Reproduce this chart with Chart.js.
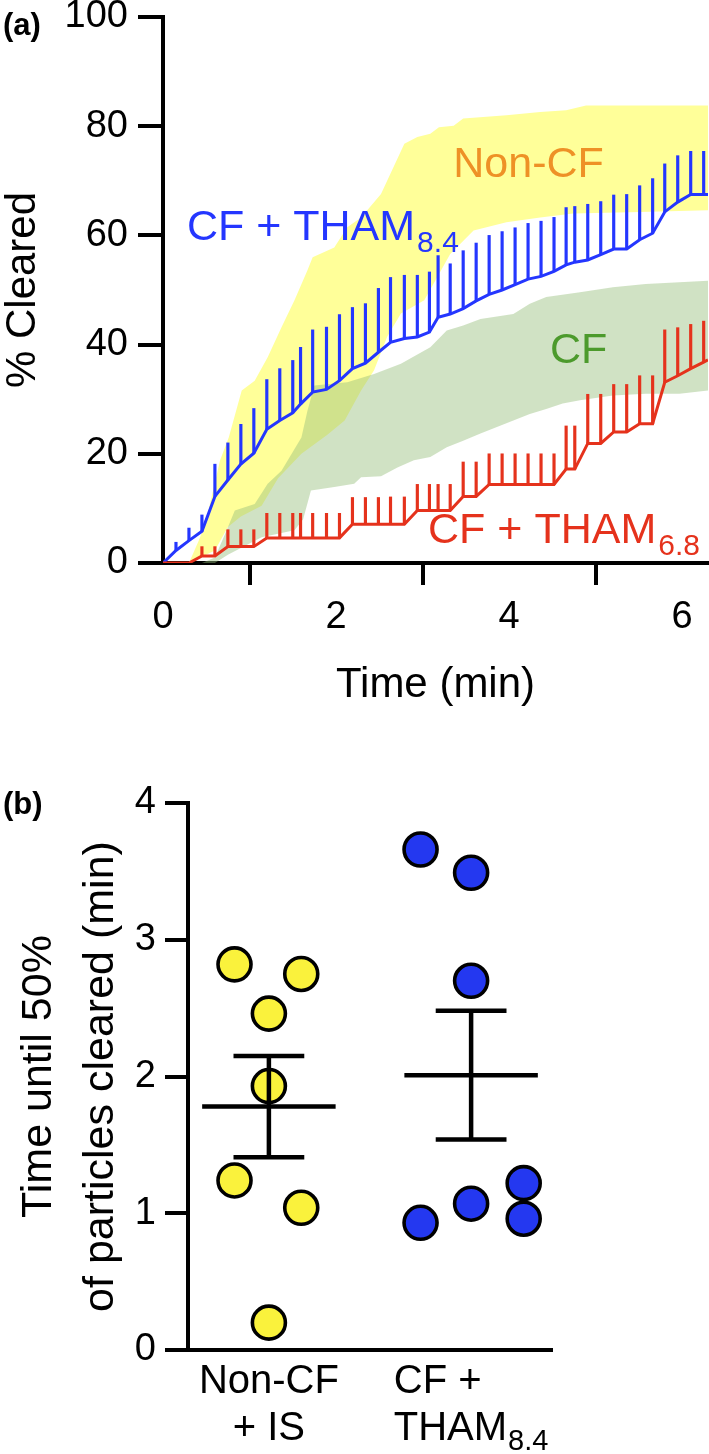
<!DOCTYPE html>
<html><head><meta charset="utf-8">
<script src="https://cdn.jsdelivr.net/npm/chart.js"></script>
<style>
html,body{margin:0;padding:0;background:#fff;}
body{width:709px;height:1454px;position:relative;overflow:hidden;font-family:'Liberation Sans',Arial,Helvetica,sans-serif;}
canvas{position:absolute;left:0;}
.panel{position:absolute;left:3px;font-weight:bold;font-size:31px;line-height:31px;color:#000;z-index:2;}
</style></head><body>
<canvas id="c1" width="709" height="711" style="top:0"></canvas>
<canvas id="c2" width="709" height="694" style="top:760px"></canvas>
<div class="panel" style="top:9px">(a)</div>
<div class="panel" style="top:788px">(b)</div>
<script>
// ---------------- Panel (a) data ----------------
const times = [0,0.15,0.30,0.45,0.60,0.75,0.90,1.05,1.20,1.35,1.50,1.59,1.73,1.89,2.04,2.19,2.34,2.49,2.63,2.79,2.94,3.08,3.18,3.32,3.47,3.62,3.77,3.92,4.07,4.22,4.37,4.52,4.66,4.76,4.91,5.06,5.21,5.36,5.51,5.66,5.80,5.95,6.10,6.25,6.30];
const tham84Mean = [0,2.3,4.1,5.8,12.2,15.2,18.1,20.1,24.5,26.1,27.5,29.1,31.3,31.8,33.4,35.6,36.6,38.6,40.4,41.1,41.4,42.3,45.0,45.6,46.6,48.0,49.2,50.0,51.0,52.0,52.5,53.4,54.6,55.1,55.5,56.5,57.5,57.5,59.2,60.4,64.3,66.1,67.5,67.5,67.5];
const tham84Upper = [null,3.8,6.4,8.8,18.1,22.0,25.4,28.3,33.6,35.6,37.1,39.5,42.7,43.2,45.5,46.8,47.5,50.3,52.3,52.7,52.7,53.3,56.3,54.8,57.2,58.6,60.0,60.7,61.4,62.2,62.6,63.3,65.1,65.3,65.7,66.2,67.4,67.5,69.1,70.4,73.1,74.6,75.4,75.4,null];
const tham68Mean = [0,0,0,1.3,1.3,3.0,3.0,3.0,4.6,4.6,4.6,4.6,4.6,4.6,4.6,7.1,7.1,7.1,7.1,7.1,9.6,9.6,9.6,9.6,12.2,12.2,14.4,14.4,14.4,14.4,14.4,14.4,17.2,17.2,21.9,21.9,24.0,24.0,25.5,25.5,33.1,34.3,35.6,36.8,37.2];
const tham68Upper = [null,null,null,3.0,3.0,6.1,6.1,6.1,9.1,9.1,9.1,9.1,9.1,9.1,9.1,12.0,12.0,12.0,12.1,12.1,14.4,14.4,14.4,14.4,18.5,18.5,20.0,20.0,20.0,20.0,20.0,20.0,25.1,25.1,30.9,30.9,32.7,32.7,34.3,34.3,42.7,43.1,43.7,44.3,null];

const nonCFUpperT = [0.30,0.41,0.49,0.56,0.66,0.76,0.91,1.06,1.21,1.37,1.52,1.67,1.73,1.98,2.13,2.29,2.52,2.79,2.94,3.09,3.19,3.36,3.47,3.97,4.36,4.66,4.89,6.30];
const nonCFUpperV = [0,4,7.2,12,18.8,23,31.6,33.4,37.7,43.2,48.1,53.6,56,57.8,61.5,63.3,67.6,76.8,78.0,78.6,79.8,80.1,81.4,82.0,82.6,82.9,83.8,83.8];
const nonCFLowerT = [0.30,0.60,0.75,0.90,1.14,1.33,1.60,1.90,2.10,2.29,2.44,2.59,2.75,3.02,3.32,3.59,3.74,3.97,4.36,4.74,5.51,6.30];
const nonCFLowerV = [0,2.3,6.6,8.5,10.5,15.5,20.0,23.5,26.1,31.6,35.3,41.4,45.7,48.1,56.6,60.9,61.5,62.4,63.3,64.0,64.3,64.6];
const cfUpperT = [0.45,0.60,0.72,0.83,1.06,1.21,1.37,1.60,1.67,1.75,2.13,2.44,2.75,3.09,3.28,3.47,3.67,4.05,4.24,4.43,4.82,5.20,5.58,6.30];
const cfUpperV = [0,1,5.4,9.6,10.8,14.5,16.9,23.0,27.9,32.5,33.1,34.6,36.5,39.5,42.6,43.5,44.7,45.6,47.5,48.7,49.6,50.5,51.1,51.7];
const cfLowerT = [0.60,0.75,1.14,1.52,1.62,1.71,1.98,2.21,2.29,2.52,2.71,2.90,3.09,3.28,3.47,3.67,3.86,4.05,4.24,4.43,4.62,4.82,5.20,5.58,5.97,6.30];
const cfLowerV = [0,1.5,4.7,6.0,8.0,13.3,13.9,14.5,15.7,15.9,17.5,18.8,19.4,21.2,22.4,23.7,24.9,26.1,27.3,28.2,29.2,29.8,30.7,31.0,31.0,31.6];

const xTicksA = [0,2,4,6];
const yTicksA = [0,20,40,60,80,100];

// ---------------- Panel (b) data ----------------
const groupPos = [1,2];
const nonCFVals = [2.82,2.75,2.46,1.93,1.24,1.04,0.20];
const nonCFJitter = [-0.17,0.16,0,0,-0.17,0.16,0];
const thamVals = [3.66,3.49,2.70,0.93,1.07,1.22,0.96];
const thamJitter = [-0.25,0,0,-0.25,0,0.26,0.26];
const groupMean = [1.78,2.01];
const semLow = [1.41,1.54];
const semHigh = [2.15,2.48];
const yTicksB = [0,1,2,3,4];
const catLabels = [[['Non-CF',''],['+ IS','']],[['CF +',''],['THAM','8.4']]];

// ---------------- styling ----------------
const FONT = "'Liberation Sans', Arial, Helvetica, sans-serif";
Chart.defaults.font.family = FONT;
Chart.defaults.color = '#000';
const BLUE = '#2436FF', RED = '#E5321C';

const pts = (xs, ys) => xs.map((x,i)=>({x, y: ys[i]}));
const shape = (ut, uv, lt, lv) => pts(ut, uv).concat(pts(lt, lv).reverse());
const errBars = (means, tops) => times.map((t,i)=>({x:t, y:[means[i], tops[i]]})).filter(p=>p.y[1]!==null);

const axisGrid = (len) => ({display:true, drawOnChartArea:false, drawTicks:true, tickLength:len, lineWidth:4, color:'#000'});
const axisBorder = {display:true, width:4, color:'#000'};

const annotPlugin = {
  id:'annot',
  afterDatasetsDraw(chart, args, opts) {
    const {ctx} = chart; const x = chart.scales.x, y = chart.scales.y;
    ctx.save();
    ctx.textAlign = 'left'; ctx.textBaseline = 'alphabetic';
    for (const a of opts.items) {
      const px = x.getPixelForValue(a.t), py = y.getPixelForValue(a.v);
      ctx.fillStyle = a.color;
      ctx.font = opts.size + 'px ' + FONT;
      ctx.fillText(a.text, px, py);
      if (a.sub) {
        const w = ctx.measureText(a.text).width;
        ctx.font = opts.subSize + 'px ' + FONT;
        ctx.fillText(a.sub, px + w + opts.subGap, py + opts.subDrop);
      }
    }
    ctx.restore();
  }
};

new Chart(document.getElementById('c1'), {
  type:'line',
  data:{datasets:[
    {label:'CF + THAM6.8', data:pts(times, tham68Mean), borderColor:RED, borderWidth:3, pointRadius:0, fill:false, tension:0, order:1},
    {label:'CF + THAM8.4', data:pts(times, tham84Mean), borderColor:BLUE, borderWidth:3, pointRadius:0, fill:false, tension:0, order:2},
    {type:'bar', label:'THAM6.8 SEM', data:errBars(tham68Mean, tham68Upper), backgroundColor:RED, barThickness:2.5, grouped:false, borderWidth:0, order:3},
    {type:'bar', label:'THAM8.4 SEM', data:errBars(tham84Mean, tham84Upper), backgroundColor:BLUE, barThickness:2.5, grouped:false, borderWidth:0, order:4},
    {label:'CF', data:shape(cfUpperT, cfUpperV, cfLowerT, cfLowerV), fill:'shape', backgroundColor:'rgba(150,190,124,0.45)', borderColor:'rgba(0,0,0,0)', borderWidth:0, pointRadius:0, tension:0, order:9},
    {label:'Non-CF', data:shape(nonCFUpperT, nonCFUpperV, nonCFLowerT, nonCFLowerV), fill:'shape', backgroundColor:'#FFFF99', borderColor:'rgba(0,0,0,0)', borderWidth:0, pointRadius:0, tension:0, order:10}
  ]},
  options:{
    responsive:false, animation:false, events:[], devicePixelRatio:1,
    layout:{padding:{left:0, top:17, right:1, bottom:0}},
    plugins:{legend:{display:false}, tooltip:{enabled:false},
      annot:{size:43, subSize:30, subGap:2, subDrop:12, items:[
        {text:'Non-CF', sub:'', t:3.356, v:70.75, color:'#EE9126'},
        {text:'CF + THAM', sub:'8.4', t:0.277, v:59.16, color:BLUE},
        {text:'CF', sub:'', t:4.474, v:36.63, color:'#4C9A2C'},
        {text:'CF + THAM', sub:'6.8', t:3.064, v:3.66, color:RED}
      ]}},
    scales:{
      x:{type:'linear', position:'bottom', min:0, max:6.3, offset:false,
        afterBuildTicks:s=>{s.ticks = xTicksA.map(v=>({value:v}));},
        afterFit:s=>{s.height = 148; s.paddingLeft = 0; s.paddingRight = 0;},
        grid:axisGrid(22), border:axisBorder,
        ticks:{font:{size:38}, color:'#000', padding:10, maxRotation:0, minRotation:0, autoSkip:false},
        title:{display:true, text:'Time (min)', font:{size:42, lineHeight:1.2}, color:'#000', padding:{top:0,bottom:0}}},
      y:{type:'linear', position:'left', min:0, max:100,
        afterBuildTicks:s=>{s.ticks = yTicksA.map(v=>({value:v}));},
        afterFit:s=>{s.width = 163; s.paddingTop = 0; s.paddingBottom = 0;},
        grid:axisGrid(25), border:axisBorder,
        ticks:{font:{size:38}, color:'#000', padding:10, autoSkip:false},
        title:{display:true, text:'% Cleared', font:{size:42, lineHeight:1.1}, color:'#000', padding:{top:0,bottom:0}}}
    }
  },
  plugins:[annotPlugin]
});

// ---------------- Panel (b) ----------------
const catPlugin = {
  id:'cats',
  afterDraw(chart, args, opts) {
    const {ctx, chartArea} = chart; const x = chart.scales.x;
    ctx.save(); ctx.fillStyle = '#000'; ctx.textAlign = 'left'; ctx.textBaseline = 'alphabetic';
    catLabels.forEach((lines, i) => {
      const px = x.getPixelForValue(groupPos[i]);
      const widths = lines.map(([m, s]) => {
        ctx.font = opts.size + 'px ' + FONT; let w = ctx.measureText(m).width;
        if (s) { ctx.font = opts.subSize + 'px ' + FONT; w += opts.subGap + ctx.measureText(s).width; }
        return w;
      });
      const blockW = Math.max(...widths);
      lines.forEach(([m, s], j) => {
        const lx = opts.align[i] === 'center' ? px - widths[j]/2 : px - blockW/2;
        const by = chartArea.bottom + opts.firstBaseline + j*opts.lineGap;
        ctx.font = opts.size + 'px ' + FONT; ctx.fillText(m, lx, by);
        if (s) { const w = ctx.measureText(m).width; ctx.font = opts.subSize + 'px ' + FONT; ctx.fillText(s, lx + w + opts.subGap, by + opts.subDrop); }
      });
    });
    ctx.restore();
  }
};

const lineDS = (data, order) => ({type:'line', data, borderColor:'#000', borderWidth:4.5, pointRadius:0, fill:false, tension:0, order});
const bDatasets = [];
groupPos.forEach((c, i) => {
  bDatasets.push(lineDS([{x:c-0.33, y:groupMean[i]}, {x:c+0.33, y:groupMean[i]}], 1));
  bDatasets.push(lineDS([{x:c, y:semLow[i]}, {x:c, y:semHigh[i]}], 1));
  bDatasets.push(lineDS([{x:c-0.175, y:semLow[i]}, {x:c+0.175, y:semLow[i]}], 1));
  bDatasets.push(lineDS([{x:c-0.175, y:semHigh[i]}, {x:c+0.175, y:semHigh[i]}], 1));
});
bDatasets.push({type:'line', label:'Non-CF + IS', data:nonCFVals.map((v,i)=>({x:groupPos[0]+nonCFJitter[i], y:v})), showLine:false, pointRadius:16.5, pointBackgroundColor:'#FAF23C', pointBorderColor:'#000', pointBorderWidth:3.6, order:5});
bDatasets.push({type:'line', label:'CF + THAM8.4', data:thamVals.map((v,i)=>({x:groupPos[1]+thamJitter[i], y:v})), showLine:false, pointRadius:16.5, pointBackgroundColor:'#2438F0', pointBorderColor:'#000', pointBorderWidth:3.6, order:5});

new Chart(document.getElementById('c2'), {
  type:'line',
  data:{datasets:bDatasets},
  options:{
    responsive:false, animation:false, events:[], devicePixelRatio:1,
    layout:{padding:{left:0, top:43, right:157, bottom:0}},
    plugins:{legend:{display:false}, tooltip:{enabled:false},
      cats:{size:40, subSize:29, subGap:1, subDrop:10, firstBaseline:43, lineGap:47, align:['center','left']}},
    scales:{
      x:{type:'linear', position:'bottom', min:0.6, max:2.4, offset:false,
        afterFit:s=>{s.height = 104; s.paddingLeft = 0; s.paddingRight = 0;},
        grid:{display:false}, border:axisBorder, ticks:{display:false}},
      y:{type:'linear', position:'left', min:0, max:4,
        afterBuildTicks:s=>{s.ticks = yTicksB.map(v=>({value:v}));},
        afterFit:s=>{s.width = 188; s.paddingTop = 0; s.paddingBottom = 0;},
        grid:axisGrid(23), border:axisBorder,
        ticks:{font:{size:38}, color:'#000', padding:9, autoSkip:false},
        title:{display:true, text:['Time until 50%','of particles cleared (min)'], font:{size:43, lineHeight:1.45}, color:'#000', padding:{top:8,bottom:0}}}
    }
  },
  plugins:[catPlugin]
});
</script></body></html>
